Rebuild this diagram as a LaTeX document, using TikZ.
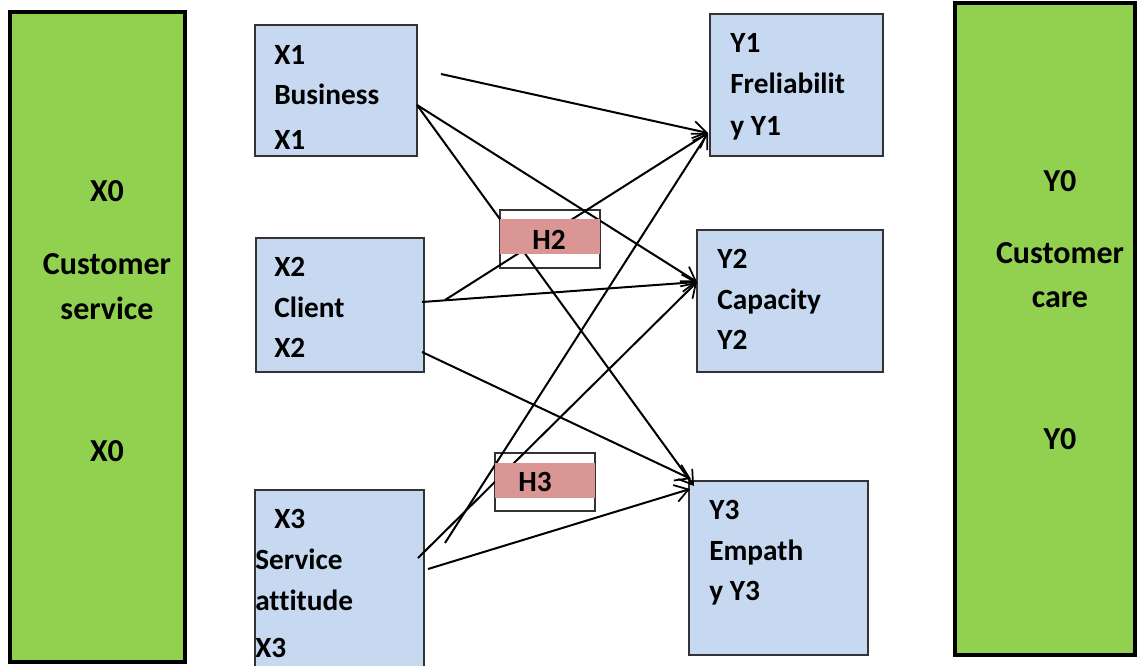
\documentclass[tikz,border=0pt]{standalone}
\usepackage{fontspec}
\setmainfont{Carlito}[Ligatures=NoCommon]
\usetikzlibrary{arrows.meta,fit}
\definecolor{panelgreen}{HTML}{92D050}
\definecolor{varblue}{HTML}{C6D9F1}
\definecolor{hypred}{HTML}{D99694}
\definecolor{edgegray}{HTML}{333333}

\begin{document}
\begin{tikzpicture}[x=0.75pt,y=-0.75pt,
  txt/.style={font=\fontsize{22}{26}\selectfont\bfseries, inner sep=0pt},
  lbl/.style={txt, anchor=base west},
  clbl/.style={txt, anchor=base},
  plbl/.style={clbl, font=\fontsize{24}{28}\selectfont\bfseries},
  panel/.style={draw=black, line width=3.6pt, fill=panelgreen, inner sep=0pt},
  varbox/.style={draw=edgegray, line width=0.9pt, fill=varblue, inner sep=0pt},
  hypframe/.style={draw=edgegray, line width=1pt, inner sep=0pt},
  hypband/.style={fill=hypred, inner sep=0pt},
  link/.style={line width=1.5pt, -{Straight Barb[length=10pt,width=13pt,line width=1.3pt]}}]

\useasboundingbox (0,0) rectangle (1139,665);
\clip (0,0) rectangle (1139,665);

% outer constructs
\node[panel, fit={(10,12) (185,662)}] (x0) {};
\node[plbl] (x0a) at (107,201) {X0};
\node[plbl] (x0b) at (107,274) {Customer};
\node[plbl] (x0c) at (107,319) {service};
\node[plbl] (x0d) at (107,461) {X0};

\node[panel, fit={(955,3) (1135,655)}] (y0) {};
\node[plbl] (y0a) at (1060,191) {Y0};
\node[plbl] (y0b) at (1060,263) {Customer};
\node[plbl] (y0c) at (1060,307) {care};
\node[plbl] (y0d) at (1060,449) {Y0};

% independent variables
\node[varbox, fit={(255,25) (417,156)}] (x1) {};
\node[lbl] (x1a) at (274,64) {X1};
\node[lbl] (x1b) at (274,104) {Business};
\node[lbl] (x1c) at (274,149) {X1};

\node[varbox, fit={(256,238) (424,372)}] (x2) {};
\node[lbl] (x2a) at (274,276) {X2};
\node[lbl] (x2b) at (274,317) {Client};
\node[lbl] (x2c) at (274,357) {X2};

\node[varbox, fit={(255,490) (424,672)}] (x3) {};
\node[lbl] (x3a) at (274,528) {X3};
\node[lbl] (x3b) at (255,569) {Service};
\node[lbl] (x3c) at (255,610) {attitude};
\node[lbl] (x3d) at (255,657) {X3};

% dependent variables
\node[varbox, fit={(710,14) (883,156)}] (y1) {};
\node[lbl] (y1a) at (730,52) {Y1};
\node[lbl] (y1b) at (730,93) {Freliabilit};
\node[lbl] (y1c) at (730,135) {y Y1};

\node[varbox, fit={(697,230) (883,372)}] (y2) {};
\node[lbl] (y2a) at (717,268) {Y2};
\node[lbl] (y2b) at (717,309) {Capacity};
\node[lbl] (y2c) at (717,349) {Y2};

\node[varbox, fit={(689,481) (868,655)}] (y3) {};
\node[lbl] (y3a) at (709,519) {Y3};
\node[lbl] (y3b) at (709,560) {Empath};
\node[lbl] (y3c) at (709,600) {y Y3};

% hypothesis frames
\node[hypframe, fit={(500,210) (600,268)}] (h2) {};
\node[hypframe, fit={(495,453) (595,511)}] (h3) {};

% connector ends
\coordinate (x1p) at (441,74);
\coordinate (x1q) at (417,105);
\coordinate (x2p) at (445,300);
\coordinate (x2q) at (422,302);
\coordinate (x2r) at (422,352);
\coordinate (x3p) at (445,543);
\coordinate (x3q) at (418,558);
\coordinate (x3r) at (428,569);
\coordinate (y1t) at (708,133);
\coordinate (y2t) at (697,282);
\coordinate (y3t) at (694,486);
\coordinate (y3u) at (691,479);
\coordinate (y3v) at (690,489);

% paths
\draw[link] (x1p) -- (y1t);
\draw[link] (x1q) -- (y2t);
\draw[link] (x1q) -- (y3t);
\draw[link] (x2p) -- (y1t);
\draw[link] (x2q) -- (y2t);
\draw[link] (x2r) -- (y3u);
\draw[link] (x3p) -- (y1t);
\draw[link] (x3q) -- (y2t);
\draw[link] (x3r) -- (y3v);

% hypothesis labels
\node[hypband, fit={(500,219) (600,254)}] (h2b) {};
\node[clbl] (h2t) at (549,249) {H2};
\node[hypband, fit={(495,463) (595,498)}] (h3b) {};
\node[clbl] (h3t) at (535,491) {H3};

\end{tikzpicture}
\end{document}
